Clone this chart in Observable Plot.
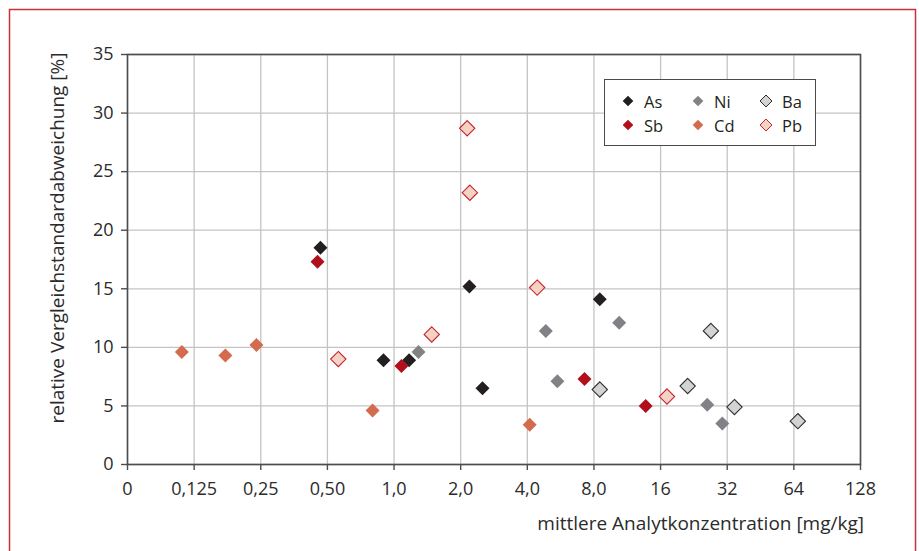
<!DOCTYPE html>
<html>
<head>
<meta charset="utf-8">
<script src="https://cdn.jsdelivr.net/npm/d3@7"></script>
<script src="https://cdn.jsdelivr.net/npm/@observablehq/plot@0.6"></script>
<style>
  html, body { margin: 0; padding: 0; background: #fff; overflow: hidden; }
  #wrap { position: relative; width: 919px; height: 551px; font-family: "Open Sans", sans-serif; }
  #legend { position: absolute; left: 604px; top: 79px;
    border: 1.5px solid #4a4a4a; background: #fff;
    display: grid; grid-template-columns: 70px 68px 60px; grid-auto-rows: 24px;
    padding: 9px 0 0 16px; box-sizing: border-box; width: 212px; height: 67px; }
  #legend .item { display: flex; align-items: center; font-size: 16.5px; color: #231f20; }
  #legend svg { width: 14px; height: 14px; margin-right: 9px; overflow: visible; }
</style>
</head>
<body>
<div id="wrap"></div>
<script>
// ---- data ----
const xTicks = [0.0625, 0.125, 0.25, 0.5, 1, 2, 4, 8, 16, 32, 64, 128];
const xTickLabels = ["0", "0,125", "0,25", "0,50", "1,0", "2,0", "4,0", "8,0", "16", "32", "64", "128"];
const yTicks = [0, 5, 10, 15, 20, 25, 30, 35];

const elements = ["As", "Sb", "Ni", "Cd", "Ba", "Pb"];
const legendOrder = ["As", "Ni", "Ba", "Sb", "Cd", "Pb"];

const asConc = [0.465, 0.896, 1.17, 2.19, 2.51, 8.5];
const asRsd  = [18.5, 8.9, 8.9, 15.2, 6.5, 14.1];

const sbConc = [0.451, 1.08, 7.25, 13.7];
const sbRsd  = [17.3, 8.4, 7.3, 5.0];

const niConc = [1.29, 4.85, 5.47, 10.4, 26.0, 30.4];
const niRsd  = [9.6, 11.4, 7.1, 12.1, 5.1, 3.5];

const cdConc = [0.110, 0.173, 0.239, 0.80, 4.10];
const cdRsd  = [9.6, 9.3, 10.2, 4.6, 3.4];

const baConc = [8.5, 21.2, 27.0, 34.5, 66.7];
const baRsd  = [6.4, 6.7, 11.4, 4.9, 3.7];

const pbConc = [0.56, 1.48, 2.14, 2.20, 4.43, 17.1];
const pbRsd  = [9.0, 11.1, 28.7, 23.2, 15.1, 5.8];

const seriesConc = {As: asConc, Sb: sbConc, Ni: niConc, Cd: cdConc, Ba: baConc, Pb: pbConc};
const seriesRsd  = {As: asRsd, Sb: sbRsd, Ni: niRsd, Cd: cdRsd, Ba: baRsd, Pb: pbRsd};

const styles = {
  As: {fill: "#231f20", stroke: "none", r: 6.3, lr: 4.8},
  Sb: {fill: "#b10f1b", stroke: "none", r: 6.3, lr: 4.8},
  Ni: {fill: "#808285", stroke: "none", r: 6.3, lr: 4.8},
  Cd: {fill: "#d36b4d", stroke: "none", r: 6.3, lr: 4.8},
  Ba: {fill: "#d1d3d4", stroke: "#2e2e2e", r: 6.9, lr: 5.4},
  Pb: {fill: "#f4d3c5", stroke: "#c8202a", r: 6.9, lr: 5.4}
};

const xLabel = "mittlere Analytkonzentration [mg/kg]";
const yLabel = "relative Vergleichstandardabweichung [%]";

// ---- build table ----
const rows = elements.flatMap(el => seriesConc[el].map((c, i) => ({element: el, conc: c, rsd: seriesRsd[el][i]})));
const tickLabelMap = new Map(xTicks.map((t, i) => [t, xTickLabels[i]]));

const dotMarks = elements.map(el => Plot.dot(rows.filter(d => d.element === el), {
  x: "conc", y: "rsd", symbol: "diamond2",
  r: styles[el].r, fill: styles[el].fill,
  stroke: styles[el].stroke, strokeWidth: 1.1
}));

const chart = Plot.plot({
  width: 919, height: 551,
  marginLeft: 127, marginRight: 59, marginTop: 54, marginBottom: 87,
  style: {fontFamily: "Open Sans, sans-serif", fontSize: "18px", color: "#2b2b2b", background: "transparent", overflow: "visible"},
  x: {type: "log", base: 2, domain: [xTicks[0], xTicks[xTicks.length - 1]]},
  y: {domain: [0, 35]},
  marks: [
    Plot.gridX(xTicks, {stroke: "#c4c4c4", strokeOpacity: 1, strokeWidth: 1.3}),
    Plot.gridY(yTicks, {stroke: "#c4c4c4", strokeOpacity: 1, strokeWidth: 1.3}),
    Plot.frame({stroke: "#4d4d4d", strokeWidth: 1.6}),
    Plot.axisX(xTicks, {tickSize: 6, tickPadding: 12, stroke: "#4d4d4d", strokeWidth: 1.4, tickFormat: d => tickLabelMap.get(d), label: null, fontSize: 18}),
    Plot.axisY(yTicks, {tickSize: 6, tickPadding: 8, stroke: "#4d4d4d", strokeWidth: 1.4, label: null, fontSize: 18}),
    ...dotMarks
  ]
});

const svg = d3.select(chart);
svg.append("rect")
  .attr("x", 9.5).attr("y", 9.5).attr("width", 906).attr("height", 600)
  .attr("fill", "none").attr("stroke", "#c8303a").attr("stroke-width", 1.5);
svg.append("text")
  .attr("x", 864).attr("y", 530).attr("text-anchor", "end")
  .attr("font-size", 19).attr("fill", "#2b2b2b").text(xLabel);
svg.append("text")
  .attr("transform", "translate(64,238) rotate(-90)").attr("text-anchor", "middle")
  .attr("font-size", 19).attr("fill", "#2b2b2b").text(yLabel);

const wrap = document.getElementById("wrap");
wrap.appendChild(chart);

// ---- legend ----
const legend = d3.select(wrap).append("div").attr("id", "legend");
for (const el of legendOrder) {
  const item = legend.append("div").attr("class", "item");
  const s = item.append("svg").attr("viewBox", "-7 -7 14 14");
  const size = Math.PI * styles[el].lr * styles[el].lr;
  s.append("path")
    .attr("d", d3.symbol(d3.symbolDiamond2, size)())
    .attr("fill", styles[el].fill)
    .attr("stroke", styles[el].stroke)
    .attr("stroke-width", 1);
  item.append("span").text(el);
}
</script>
</body>
</html>
